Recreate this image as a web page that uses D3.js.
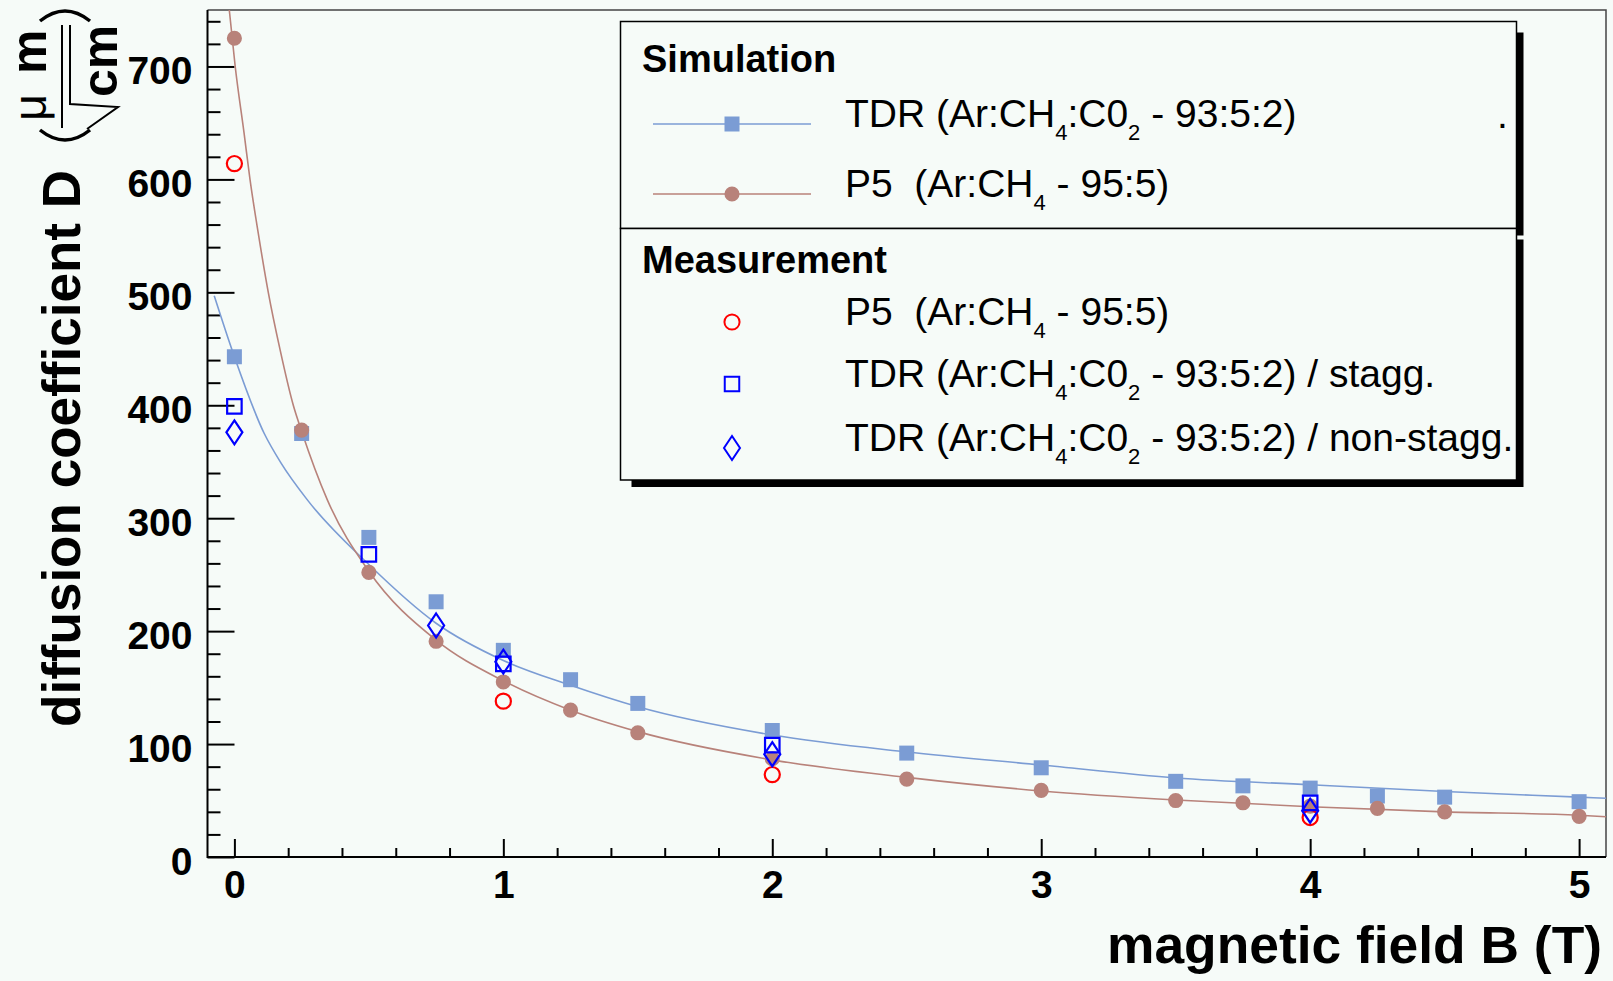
<!DOCTYPE html>
<html>
<head>
<meta charset="utf-8">
<script src="https://cdn.jsdelivr.net/npm/d3@7"></script>
<style>
  html, body { margin: 0; padding: 0; background: #f6fbf8; }
  svg { display: block; font-family: "Liberation Sans", Arial, sans-serif; }
  text { white-space: pre; }
</style>
</head>
<body>
<svg id="chart" width="1613" height="981"></svg>
<script>
// simulated points, magnetic field B (T) and diffusion D (um/sqrt(cm))
const simB = [0, 0.25, 0.5, 0.75, 1, 1.25, 1.5, 2, 2.5, 3, 3.5, 3.75, 4, 4.25, 4.5, 5];
const simTDR = [443, 375, 283, 226, 183, 157, 136, 112, 92, 79, 67, 63, 61, 54, 53, 49];
const simP5 = [725, 378, 252, 191, 155, 130, 110, 87, 69, 59, 50, 48, 45, 43, 40, 36];

// measured points
const measP5B = [0, 1, 2, 4];
const measP5 = [614, 138, 73, 35];
const measStaggB = [0, 0.5, 1, 2, 4];
const measStagg = [399, 268, 171, 99, 48];
const measNonStaggB = [0, 0.75, 1, 2, 4];
const measNonStagg = [376, 205, 173, 91, 41];

// fitted curves
const fitTDRB = [-0.075, 0, 0.111, 0.173, 0.272, 0.5, 0.75, 1, 1.25, 1.5, 2, 2.5, 3, 3.5, 4, 4.5, 5, 5.1];
const fitTDR = [497, 443, 375, 349, 316, 259, 207, 174, 152, 133, 108, 93, 81.5, 70, 64, 58, 53, 52];
const fitP5B = [-0.019, 0.003, 0.036, 0.058, 0.089, 0.126, 0.17, 0.219, 0.25, 0.346, 0.5, 0.75, 1, 1.25, 1.5, 2, 2.5, 3, 3.5, 4, 4.5, 5, 5.1];
const fitP5 = [750, 700, 641, 600, 552, 500, 449, 400, 377, 316, 253, 192, 156, 130, 111, 86, 70.5, 58.5, 50.5, 44.5, 40, 37, 35.7];

// axes
const xTicks = [0, 1, 2, 3, 4, 5];
const yTicks = [0, 100, 200, 300, 400, 500, 600, 700];

// legend texts ("_4" = subscript)
const simLabels = ["TDR (Ar:CH_4:C0_2 - 93:5:2)", "P5  (Ar:CH_4 - 95:5)"];
const measLabels = ["P5  (Ar:CH_4 - 95:5)", "TDR (Ar:CH_4:C0_2 - 93:5:2) / stagg.", "TDR (Ar:CH_4:C0_2 - 93:5:2) / non-stagg."];

const cBlue = "#7b9cd4", cBrown = "#b8827a";

const svg = d3.select("#chart");
svg.append("rect").attr("width", 1613).attr("height", 981).attr("fill", "#f6fbf8");

const x = d3.scaleLinear().domain([-0.1, 5.1]).range([207.5, 1606]);
const y = d3.scaleLinear().domain([0, 750]).range([857, 10]);

// frame top / right
svg.append("path")
  .attr("d", `M${x(-0.1)},10H1606V857`)
  .attr("fill", "none").attr("stroke", "#444").attr("stroke-width", 1.5);

// minor ticks
const minorX = d3.range(0, 5.1, 0.2).filter(v => Math.abs(v - Math.round(v)) > 1e-6);
const minorY = d3.range(0, 750, 20).filter(v => v % 100 !== 0);

svg.append("g").attr("transform", "translate(0,857)")
  .call(d3.axisBottom(x).tickValues(minorX).tickSize(-9).tickFormat("").tickSizeOuter(0))
  .call(g => g.select(".domain").remove())
  .selectAll("line").attr("stroke-width", 2);

svg.append("g").attr("transform", `translate(${x(-0.1)},0)`)
  .call(d3.axisLeft(y).tickValues(minorY).tickSize(-13).tickFormat("").tickSizeOuter(0))
  .call(g => g.select(".domain").remove())
  .selectAll("line").attr("stroke-width", 2);

// major ticks + labels
const xAxis = svg.append("g").attr("transform", "translate(0,857)")
  .call(d3.axisBottom(x).tickValues(xTicks).tickFormat(d3.format("d"))
    .tickSize(-18).tickPadding(13).tickSizeOuter(0));
xAxis.select(".domain").remove();
xAxis.attr("font-size", 39).attr("font-family", null).attr("font-weight", "bold");
xAxis.selectAll("line").attr("stroke-width", 2);

const yAxis = svg.append("g").attr("transform", `translate(${x(-0.1)},0)`)
  .call(d3.axisLeft(y).tickValues(yTicks).tickFormat(d3.format("d"))
    .tickSize(-27).tickPadding(15).tickSizeOuter(0));
yAxis.select(".domain").remove();
yAxis.attr("font-size", 39).attr("font-family", null).attr("font-weight", "bold");
yAxis.selectAll("line").attr("stroke-width", 2);
yAxis.selectAll("text").attr("dy", "0.44em");

// axis lines
svg.append("path")
  .attr("d", `M${x(-0.1)},10V857H1606`)
  .attr("fill", "none").attr("stroke", "#000").attr("stroke-width", 2);

// axis titles
svg.append("text")
  .attr("x", 1602).attr("y", 963)
  .attr("text-anchor", "end").attr("font-weight", "bold").attr("font-size", 51)
  .attr("textLength", 495).attr("lengthAdjust", "spacingAndGlyphs")
  .text("magnetic field B (T)");

svg.append("text")
  .attr("transform", "translate(80,727) rotate(-90)")
  .attr("font-weight", "bold").attr("font-size", 53)
  .attr("textLength", 557).attr("lengthAdjust", "spacingAndGlyphs")
  .text("diffusion coefficient D");

// unit: ( um / sqrt(cm) ), drawn rotated like the title
const unit = svg.append("g");
unit.append("text").attr("transform", "translate(46,74) rotate(-90)")
  .attr("font-weight", "bold").attr("font-size", 50).text("m");
unit.append("text").attr("transform", "translate(46,121) rotate(-90)")
  .attr("font-size", 47).text("μ");
unit.append("text").attr("transform", "translate(117,97) rotate(-90)")
  .attr("font-weight", "bold").attr("font-size", 50).text("cm");
unit.append("path").attr("d", "M62,25V128").attr("stroke", "#000").attr("stroke-width", 2);
unit.append("path").attr("d", "M70,25V104L118,107L87,129")
  .attr("fill", "none").attr("stroke", "#000").attr("stroke-width", 2);
unit.append("path").attr("d", "M40,21Q65,1 90,21M40,130Q65,150 90,130")
  .attr("fill", "none").attr("stroke", "#000").attr("stroke-width", 3.5);

// curves
svg.append("clipPath").attr("id", "frame")
  .append("rect").attr("x", x(-0.1)).attr("y", 10).attr("width", 1606 - x(-0.1)).attr("height", 847);

const line = d3.line().x(d => x(d[0])).y(d => y(d[1])).curve(d3.curveMonotoneX);
const plot = svg.append("g").attr("clip-path", "url(#frame)");

plot.append("path").datum(d3.zip(fitTDRB, fitTDR))
  .attr("d", line).attr("fill", "none").attr("stroke", cBlue).attr("stroke-width", 1.6);
plot.append("path").datum(d3.zip(fitP5B, fitP5))
  .attr("d", line).attr("fill", "none").attr("stroke", cBrown).attr("stroke-width", 1.6);

// marker shapes
const square = d3.symbol().type(d3.symbolSquare).size(225)();
const openSquare = d3.symbol().type(d3.symbolSquare).size(210)();
const dot = d3.symbol().type(d3.symbolCircle).size(180)();
const ring = d3.symbol().type(d3.symbolCircle).size(180)();
const diamond = "M0,-12L8,0L0,12L-8,0Z";

function markers(bs, ds, shape, fill, stroke) {
  plot.append("g").selectAll("path")
    .data(d3.zip(bs, ds))
    .join("path")
    .attr("transform", d => `translate(${x(d[0])},${y(d[1])})`)
    .attr("d", shape)
    .attr("fill", fill)
    .attr("stroke", stroke)
    .attr("stroke-width", 2.2);
}

markers(simB, simTDR, square, cBlue, "none");
markers(simB, simP5, dot, cBrown, "none");
markers(measP5B, measP5, ring, "none", "#ff0000");
markers(measStaggB, measStagg, openSquare, "none", "#0000ff");
markers(measNonStaggB, measNonStagg, diamond, "none", "#0000ff");

// legend
function richText(t, str) {
  str.split(/_(\d)/).forEach((part, i) => {
    if (i % 2 === 1) t.append("tspan").attr("dy", 13).attr("font-size", 22).text(part);
    else if (part) t.append("tspan").attr("dy", i === 0 ? 0 : -13).text(part);
  });
}

function legendBox(x0, y0, x1, y1) {
  svg.append("path")
    .attr("d", `M${x1},${y0 + 11}H${x1 + 7}V${y1 + 7}H${x0 + 11}V${y1}H${x1}Z`)
    .attr("fill", "#000");
  svg.append("rect")
    .attr("x", x0).attr("y", y0).attr("width", x1 - x0).attr("height", y1 - y0)
    .attr("fill", "#f6fbf8").attr("stroke", "#000").attr("stroke-width", 1.5);
}

legendBox(620.5, 21.5, 1516.5, 228.5);
legendBox(620.5, 228.5, 1516.5, 480);

const leg = svg.append("g").attr("font-size", 39);

leg.append("text").attr("x", 642).attr("y", 72)
  .attr("font-weight", "bold").attr("font-size", 38).text("Simulation");
leg.append("text").attr("x", 642).attr("y", 273)
  .attr("font-weight", "bold").attr("font-size", 38).text("Measurement");

const simRows = [124, 194];
const simMarks = [[square, cBlue], [dot, cBrown]];
simLabels.forEach((lab, i) => {
  const c = simMarks[i][1];
  leg.append("path").attr("d", `M653,${simRows[i]}H811`).attr("stroke", c).attr("stroke-width", 1.6);
  leg.append("path").attr("transform", `translate(732,${simRows[i]})`)
    .attr("d", simMarks[i][0]).attr("fill", c);
  richText(leg.append("text").attr("x", 845).attr("y", simRows[i] + 3), lab);
});

const measRows = [322, 384, 448];
const measMarks = [[ring, "#ff0000"], [openSquare, "#0000ff"], [diamond, "#0000ff"]];
measLabels.forEach((lab, i) => {
  leg.append("path").attr("transform", `translate(732,${measRows[i]})`)
    .attr("d", measMarks[i][0]).attr("fill", "none")
    .attr("stroke", measMarks[i][1]).attr("stroke-width", 2);
  richText(leg.append("text").attr("x", 845).attr("y", measRows[i] + 3), lab);
});

// stray dot in the legend
leg.append("text").attr("x", 1497).attr("y", 128).text(".");
</script>
</body>
</html>
